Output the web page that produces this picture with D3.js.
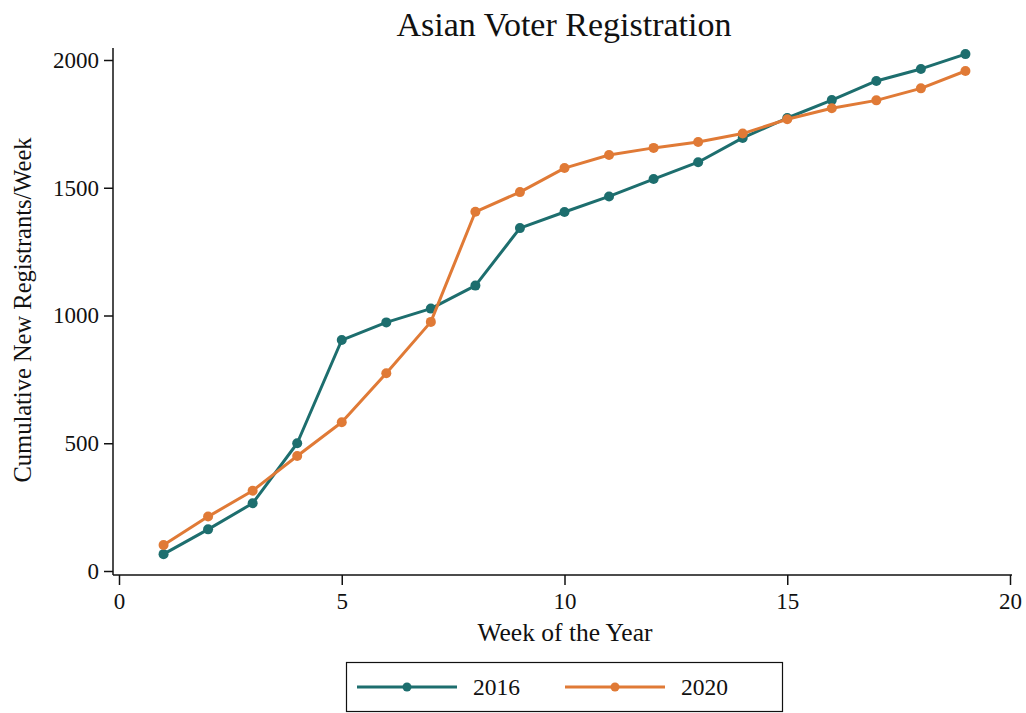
<!DOCTYPE html>
<html>
<head>
<meta charset="utf-8">
<script src="https://cdn.jsdelivr.net/npm/d3@7"></script>
<style>
  html, body { margin: 0; padding: 0; background: #fff; }
  svg { display: block; }
  text { font-family: "Liberation Serif", "DejaVu Serif", serif; fill: #111; }
</style>
</head>
<body>
<svg id="chart" width="1026" height="713"></svg>
<script>
const weeks = [1,2,3,4,5,6,7,8,9,10,11,12,13,14,15,16,17,18,19];
const values2016 = [66,163,265,500,904,973,1027,1117,1342,1405,1466,1534,1600,1695,1773,1843,1918,1965,2023];
const values2020 = [102,213,314,450,582,774,975,1406,1483,1577,1628,1656,1679,1712,1768,1811,1842,1889,1957];
const seriesNames = ["2016", "2020"];
const seriesColors = ["#1d6e6e", "#e07a36"];
const xTicks = [0,5,10,15,20];
const yTicks = [0,500,1000,1500,2000];

const svg = d3.select("#chart");
const x = d3.scaleLinear().domain([0, 20]).range([119, 1010]);
const y = d3.scaleLinear().domain([0, 2000]).range([571, 60]);

svg.append("text").attr("x", 564).attr("y", 36).attr("text-anchor", "middle")
  .style("font-size", "34px").text("Asian Voter Registration");

// y axis
const yAxis = svg.append("g").attr("transform", "translate(113,0)")
  .call(d3.axisLeft(y).tickValues(yTicks).tickSize(9).tickPadding(5).tickFormat(d3.format("d")));
yAxis.select(".domain").attr("d", "M0,48V575").attr("stroke", "#111").attr("stroke-width", 1.5);
yAxis.selectAll(".tick line").attr("stroke", "#111").attr("stroke-width", 1.5);
yAxis.selectAll(".tick text").style("font-size", "23px").attr("fill", "#111").style("font-family", "Liberation Serif");

// x axis
const xAxis = svg.append("g").attr("transform", "translate(0,575)")
  .call(d3.axisBottom(x).tickValues(xTicks).tickSize(10).tickPadding(8).tickFormat(d3.format("d")));
xAxis.select(".domain").attr("d", "M113,0H1012").attr("stroke", "#111").attr("stroke-width", 1.5);
xAxis.selectAll(".tick line").attr("stroke", "#111").attr("stroke-width", 1.5);
xAxis.selectAll(".tick text").style("font-size", "23px").attr("fill", "#111").style("font-family", "Liberation Serif");

svg.append("text").attr("x", 565).attr("y", 641).attr("text-anchor", "middle")
  .style("font-size", "25.5px").text("Week of the Year");
svg.append("text").attr("transform", "translate(31,310) rotate(-90)").attr("text-anchor", "middle")
  .style("font-size", "24.5px").text("Cumulative New Registrants/Week");

const line = d3.line().x(d => x(d[0])).y(d => y(d[1]));
const allSeries = [values2016, values2020];
allSeries.forEach((vals, i) => {
  const pts = weeks.map((w, j) => [w, vals[j]]);
  svg.append("path").datum(pts).attr("d", line).attr("fill", "none")
    .attr("stroke", seriesColors[i]).attr("stroke-width", 3).attr("stroke-linejoin", "round");
  svg.append("g").selectAll("circle").data(pts).join("circle")
    .attr("cx", d => x(d[0])).attr("cy", d => y(d[1])).attr("r", 5).attr("fill", seriesColors[i]);
});

// legend
const lg = svg.append("g");
lg.append("rect").attr("x", 346.5).attr("y", 662.5).attr("width", 436).attr("height", 49)
  .attr("fill", "#fff").attr("stroke", "#111").attr("stroke-width", 1.2);
const legX = [357, 565];
seriesNames.forEach((name, i) => {
  const x0 = legX[i];
  lg.append("line").attr("x1", x0).attr("x2", x0 + 100).attr("y1", 687).attr("y2", 687)
    .attr("stroke", seriesColors[i]).attr("stroke-width", 3);
  lg.append("circle").attr("cx", x0 + 50).attr("cy", 687).attr("r", 4.5).attr("fill", seriesColors[i]);
  lg.append("text").attr("x", x0 + 116).attr("y", 695).style("font-size", "23.5px").text(name);
});
</script>
</body>
</html>
